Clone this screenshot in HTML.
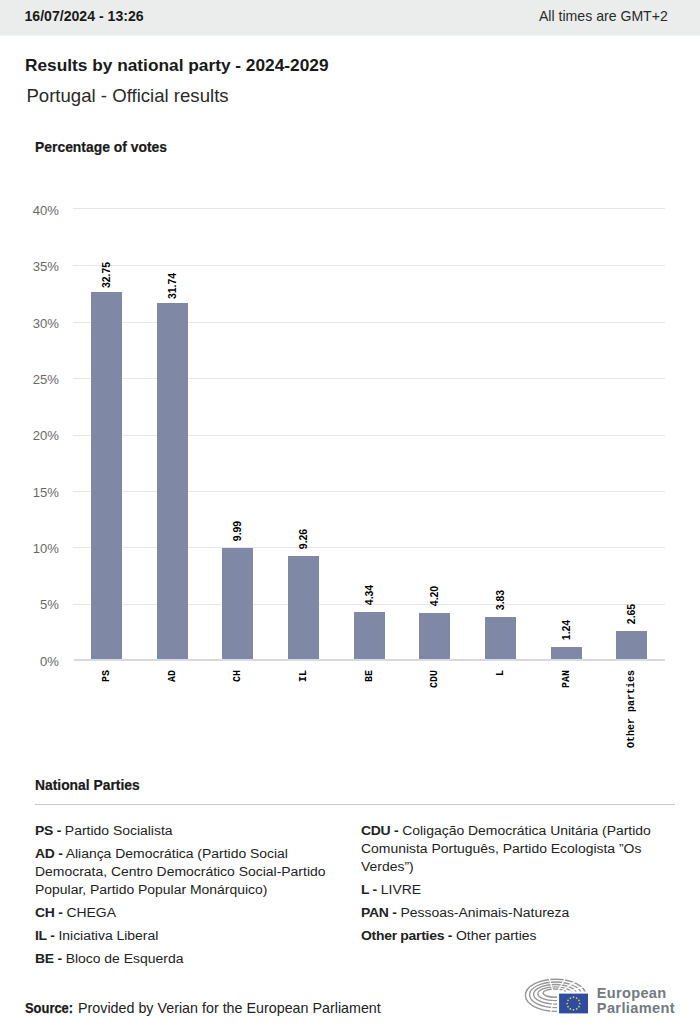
<!DOCTYPE html>
<html><head><meta charset="utf-8"><title>Results by national party - 2024-2029</title>
<style>
html,body{margin:0;padding:0;background:#fff;}
body{width:700px;height:1034px;position:relative;overflow:hidden;font-family:"Liberation Sans",sans-serif;color:#1a1a1a;}
b{font-weight:700;}
.lg b{letter-spacing:-0.25px;}
.g{position:absolute;left:73px;width:592px;height:1px;background:#e6e6e6;}
.bar{position:absolute;width:31px;background:#7f88a5;}
.vl{position:absolute;font-size:11px;font-weight:700;color:#000;white-space:nowrap;line-height:12px;transform:translate(-50%,-50%) rotate(-90deg) scaleX(0.95);}
.cl{position:absolute;font-family:"Liberation Mono",monospace;font-size:10px;font-weight:700;color:#000;white-space:nowrap;line-height:12px;transform-origin:0 0;}
.yl{position:absolute;right:641.3px;font-size:12.8px;line-height:14px;color:#707070;}
.lg{position:absolute;font-size:12.5px;line-height:18.2px;color:#222;white-space:nowrap;transform:scaleX(1.115);transform-origin:0 0;}
</style></head><body>
<div style="position:absolute;left:0;top:0;width:700px;height:35px;background:#ebedec;border-bottom:1px solid #f3f4f4;"></div>
<div style="position:absolute;left:24.50px;top:8.11px;font-size:14.1px;line-height:16px;white-space:nowrap;font-weight:700;color:#1a1a1a;">16/07/2024 - 13:26</div>
<div style="position:absolute;right:32.20px;top:8.11px;font-size:14.1px;line-height:16px;white-space:nowrap;color:#2a2a2a;">All times are GMT+2</div>
<div style="position:absolute;left:25.00px;top:54.71px;font-size:17.3px;line-height:20px;white-space:nowrap;font-weight:700;color:#1a1a1a;">Results by national party - 2024-2029</div>
<div style="position:absolute;left:26.40px;top:84.96px;font-size:18.6px;line-height:22px;white-space:nowrap;color:#2a2a2a;">Portugal - Official results</div>
<div style="position:absolute;left:35.00px;top:138.54px;font-size:14.9px;line-height:16px;white-space:nowrap;font-weight:700;color:#1a1a1a;transform:scaleX(0.933);transform-origin:0 0;-webkit-text-stroke:0.2px #1a1a1a;">Percentage of votes</div>
<div class="g" style="top:208px"></div>
<div style="position:absolute;right:641.10px;top:204.16px;font-size:13.1px;line-height:14px;white-space:nowrap;color:#6a6a6a;">40%</div>
<div class="g" style="top:265px"></div>
<div style="position:absolute;right:641.10px;top:260.48px;font-size:13.1px;line-height:14px;white-space:nowrap;color:#6a6a6a;">35%</div>
<div class="g" style="top:322px"></div>
<div style="position:absolute;right:641.10px;top:316.80px;font-size:13.1px;line-height:14px;white-space:nowrap;color:#6a6a6a;">30%</div>
<div class="g" style="top:378px"></div>
<div style="position:absolute;right:641.10px;top:373.12px;font-size:13.1px;line-height:14px;white-space:nowrap;color:#6a6a6a;">25%</div>
<div class="g" style="top:435px"></div>
<div style="position:absolute;right:641.10px;top:429.44px;font-size:13.1px;line-height:14px;white-space:nowrap;color:#6a6a6a;">20%</div>
<div class="g" style="top:491px"></div>
<div style="position:absolute;right:641.10px;top:485.76px;font-size:13.1px;line-height:14px;white-space:nowrap;color:#6a6a6a;">15%</div>
<div class="g" style="top:547px"></div>
<div style="position:absolute;right:641.10px;top:542.08px;font-size:13.1px;line-height:14px;white-space:nowrap;color:#6a6a6a;">10%</div>
<div class="g" style="top:604px"></div>
<div style="position:absolute;right:641.10px;top:598.40px;font-size:13.1px;line-height:14px;white-space:nowrap;color:#6a6a6a;">5%</div>
<div style="position:absolute;right:641.10px;top:654.72px;font-size:13.1px;line-height:14px;white-space:nowrap;color:#6a6a6a;">0%</div>
<div style="position:absolute;left:73.5px;width:591.5px;top:659px;height:2px;background:#d9d9dc;"></div>
<div class="bar" style="left:91px;top:292.06px;height:366.94px"></div>
<div style="position:absolute;left:91px;top:659px;width:31px;height:2px;background:#d8dcec"></div>
<div class="vl" style="left:105.90px;top:275.06px">32.75</div>
<div class="cl" style="left:101.30px;top:670.4px;transform:translate(0,0) rotate(-90deg) translate(-100%,0);">PS</div>
<div class="bar" style="left:157px;top:303.43px;height:355.57px"></div>
<div style="position:absolute;left:157px;top:659px;width:31px;height:2px;background:#d8dcec"></div>
<div class="vl" style="left:171.90px;top:286.43px">31.74</div>
<div class="cl" style="left:167.30px;top:670.4px;transform:translate(0,0) rotate(-90deg) translate(-100%,0);">AD</div>
<div class="bar" style="left:222px;top:548.11px;height:110.89px"></div>
<div style="position:absolute;left:222px;top:659px;width:31px;height:2px;background:#d8dcec"></div>
<div class="vl" style="left:236.90px;top:531.11px">9.99</div>
<div class="cl" style="left:232.30px;top:670.4px;transform:translate(0,0) rotate(-90deg) translate(-100%,0);">CH</div>
<div class="bar" style="left:288px;top:556.33px;height:102.67px"></div>
<div style="position:absolute;left:288px;top:659px;width:31px;height:2px;background:#d8dcec"></div>
<div class="vl" style="left:302.90px;top:539.33px">9.26</div>
<div class="cl" style="left:298.30px;top:670.4px;transform:translate(0,0) rotate(-90deg) translate(-100%,0);">IL</div>
<div class="bar" style="left:354px;top:611.67px;height:47.33px"></div>
<div style="position:absolute;left:354px;top:659px;width:31px;height:2px;background:#d8dcec"></div>
<div class="vl" style="left:368.90px;top:594.67px">4.34</div>
<div class="cl" style="left:364.30px;top:670.4px;transform:translate(0,0) rotate(-90deg) translate(-100%,0);">BE</div>
<div class="bar" style="left:419px;top:613.25px;height:45.75px"></div>
<div style="position:absolute;left:419px;top:659px;width:31px;height:2px;background:#d8dcec"></div>
<div class="vl" style="left:433.90px;top:596.25px">4.20</div>
<div class="cl" style="left:429.30px;top:670.4px;transform:translate(0,0) rotate(-90deg) translate(-100%,0);">CDU</div>
<div class="bar" style="left:485px;top:617.41px;height:41.59px"></div>
<div style="position:absolute;left:485px;top:659px;width:31px;height:2px;background:#d8dcec"></div>
<div class="vl" style="left:499.90px;top:600.41px">3.83</div>
<div class="cl" style="left:495.30px;top:670.4px;transform:translate(0,0) rotate(-90deg) translate(-100%,0);">L</div>
<div class="bar" style="left:551px;top:646.55px;height:12.45px"></div>
<div style="position:absolute;left:551px;top:659px;width:31px;height:2px;background:#d8dcec"></div>
<div class="vl" style="left:565.90px;top:629.55px">1.24</div>
<div class="cl" style="left:561.30px;top:670.4px;transform:translate(0,0) rotate(-90deg) translate(-100%,0);">PAN</div>
<div class="bar" style="left:616px;top:630.69px;height:28.31px"></div>
<div style="position:absolute;left:616px;top:659px;width:31px;height:2px;background:#d8dcec"></div>
<div class="vl" style="left:630.90px;top:613.69px">2.65</div>
<div class="cl" style="left:626.30px;top:670.4px;transform:translate(0,0) rotate(-90deg) translate(-100%,0);">Other parties</div>
<div style="position:absolute;left:34.80px;top:776.94px;font-size:14.9px;line-height:16px;white-space:nowrap;font-weight:700;color:#1a1a1a;transform:scaleX(0.93);transform-origin:0 0;-webkit-text-stroke:0.2px #1a1a1a;">National Parties</div>
<div style="position:absolute;left:35px;top:804px;width:640px;height:1px;background:#c8c8c8;"></div>
<div class="lg" style="left:34.7px;top:821.87px"><b>PS -</b> Partido Socialista</div>
<div class="lg" style="left:34.7px;top:844.77px"><b>AD -</b> Aliança Democrática (Partido Social<br>Democrata, Centro Democrático Social-Partido<br>Popular, Partido Popular Monárquico)</div>
<div class="lg" style="left:34.7px;top:904.07px"><b>CH -</b> CHEGA</div>
<div class="lg" style="left:34.7px;top:926.97px"><b>IL -</b> Iniciativa Liberal</div>
<div class="lg" style="left:34.7px;top:949.87px"><b>BE -</b> Bloco de Esquerda</div>
<div class="lg" style="left:360.8px;top:821.67px"><b>CDU -</b> Coligação Democrática Unitária (Partido<br>Comunista Português, Partido Ecologista ”Os<br>Verdes”)</div>
<div class="lg" style="left:360.8px;top:880.97px"><b>L -</b> LIVRE</div>
<div class="lg" style="left:360.8px;top:903.87px"><b>PAN -</b> Pessoas-Animais-Natureza</div>
<div class="lg" style="left:360.8px;top:926.77px"><b>Other parties -</b> Other parties</div>
<div style="position:absolute;left:24.90px;top:999.53px;font-size:15.2px;line-height:16px;white-space:nowrap;font-weight:700;color:#1a1a1a;transform:scaleX(0.85);transform-origin:0 0;-webkit-text-stroke:0.25px #1a1a1a;">Source:</div>
<div style="position:absolute;left:78.00px;top:999.85px;font-size:14.3px;line-height:16px;white-space:nowrap;color:#222;">Provided by Verian for the European Parliament</div>
<svg style="position:absolute;left:520px;top:972px" width="75" height="48" viewBox="520 972 75 48"><g fill="none" stroke="#969696" stroke-width="1.35"><ellipse cx="555.6" cy="995.3" rx="30.2" ry="16.1"/><ellipse cx="555.4" cy="994.8" rx="25.9" ry="12.8"/><ellipse cx="555.2" cy="994.3" rx="21.6" ry="9.8"/><ellipse cx="555.0" cy="993.7" rx="17.2" ry="6.9"/><ellipse cx="554.8" cy="993.1" rx="11.6" ry="4.1"/></g><g stroke="#fff" stroke-width="1.3"><line x1="552.94" y1="991.08" x2="547.55" y2="972.36"/><line x1="557.58" y1="991.30" x2="568.18" y2="973.45"/><line x1="560.29" y1="992.17" x2="580.21" y2="977.61"/><line x1="562.45" y1="993.65" x2="589.82" y2="984.73"/><line x1="553.25" y1="1000.95" x2="548.93" y2="1019.77"/></g><rect x="557" y="991.6" width="40" height="30" fill="#fff"/><rect x="559.1" y="993.6" width="28.9" height="19.8" fill="#2e4d9e"/><g fill="#e6cf45"><circle cx="573.50" cy="997.20" r="0.85"/><circle cx="576.65" cy="998.04" r="0.85"/><circle cx="578.96" cy="1000.35" r="0.85"/><circle cx="579.80" cy="1003.50" r="0.85"/><circle cx="578.96" cy="1006.65" r="0.85"/><circle cx="576.65" cy="1008.96" r="0.85"/><circle cx="573.50" cy="1009.80" r="0.85"/><circle cx="570.35" cy="1008.96" r="0.85"/><circle cx="568.04" cy="1006.65" r="0.85"/><circle cx="567.20" cy="1003.50" r="0.85"/><circle cx="568.04" cy="1000.35" r="0.85"/><circle cx="570.35" cy="998.04" r="0.85"/></g></svg>
<div style="position:absolute;left:596.80px;top:984.74px;font-size:14.6px;line-height:16px;white-space:nowrap;font-weight:700;color:#737b80;letter-spacing:0.3px;">European</div>
<div style="position:absolute;left:596.80px;top:1000.04px;font-size:14.6px;line-height:16px;white-space:nowrap;font-weight:700;color:#737b80;letter-spacing:0.35px;">Parliament</div>
</body></html>
